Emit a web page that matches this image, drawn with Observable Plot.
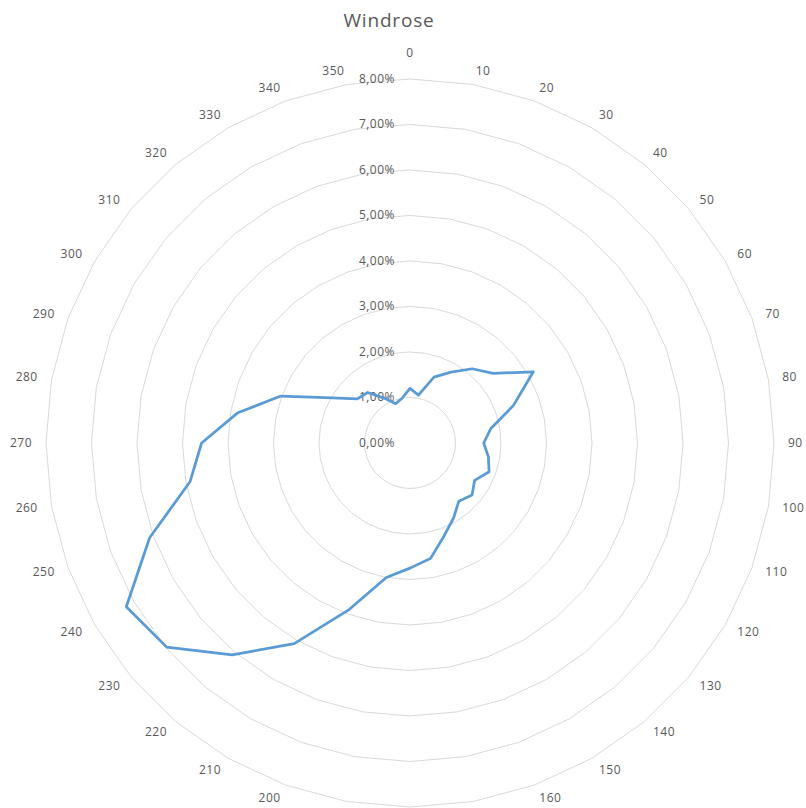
<!DOCTYPE html>
<html>
<head>
<meta charset="utf-8">
<script src="https://cdn.jsdelivr.net/npm/d3@7"></script>
<script src="https://cdn.jsdelivr.net/npm/@observablehq/plot@0.6"></script>
<style>
  body { margin: 0; background: #fff; }
  #wrap { position: relative; width: 806px; height: 808px; overflow: hidden; }
  #title {
    position: absolute; top: 7px; left: 0; width: 778px; text-align: center;
    font: 19px "Open Sans"; line-height: 26px; color: #595959; letter-spacing: 0.8px;
  }
  #chart { position: absolute; top: 0; left: 0; }
</style>
</head>
<body>
<div id="wrap">
  <div id="chart"></div>
  <div id="title">Windrose</div>
</div>
<script>
// Wind direction (degrees from north) and share of observations (%)
const directions = [0, 10, 20, 30, 40, 50, 60, 70, 80, 90, 100, 110, 120, 130, 140, 150, 160, 170,
                    180, 190, 200, 210, 220, 230, 240, 250, 260, 270, 280, 290, 300, 310, 320, 330, 340, 350];
const frequency = [1.20, 1.07, 1.54, 1.80, 2.13, 2.38, 3.13, 2.42, 1.80, 1.62, 1.75, 1.85, 1.64, 1.78, 1.67, 1.91, 2.18, 2.58,
                   2.75, 3.00, 3.89, 5.09, 6.08, 6.98, 7.20, 6.09, 4.91, 4.58, 3.84, 3.02, 1.98, 1.51, 1.45, 1.14, 0.92, 1.00];

// Radial axis rings and their labels
const ringValues = [0, 1, 2, 3, 4, 5, 6, 7, 8];
const ringLabels = ["0,00%", "1,00%", "2,00%", "3,00%", "4,00%", "5,00%", "6,00%", "7,00%", "8,00%"];
const directionLabels = directions.map(String);

const rad = (deg) => deg * Math.PI / 180;
const px = (deg, r) => r * Math.sin(rad(deg));
const py = (deg, r) => r * Math.cos(rad(deg));

const unit = 45.5;             // pixels per percentage point
const rMax = 8;
const labelR = 378 / unit;     // anchor ring for the direction labels

const wind = directions.map((d, i) => ({direction: d, value: frequency[i]}));
const rings = ringValues.filter(v => v > 0).flatMap(v => directions.map(d => ({level: v, direction: d})));

// Direction labels: right-hand side starts at the anchor, left-hand side ends there,
// the north and south labels are centred a little further out
const dirLabels = directions.map((d, i) => ({direction: d, text: directionLabels[i]}));
const side = (d) => Math.round(Math.sin(rad(d)) * 1000);
const rightLabels = dirLabels.filter(d => side(d.direction) > 0);
const leftLabels = dirLabels.filter(d => side(d.direction) < 0);
const northLabels = dirLabels.filter(d => side(d.direction) === 0 && Math.cos(rad(d.direction)) > 0);
const southLabels = dirLabels.filter(d => side(d.direction) === 0 && Math.cos(rad(d.direction)) < 0);

const labelStyle = {fontSize: 12, fill: "#595959", lineAnchor: "middle"};
const labelPos = {
  x: d => px(d.direction, labelR),
  y: d => py(d.direction, labelR),
  text: "text"
};

const chart = Plot.plot({
  width: 806,
  height: 808,
  marginLeft: 45.5,
  marginRight: 32.5,
  marginTop: 78.5,
  marginBottom: 1.5,
  x: {domain: [-rMax, rMax], axis: null},
  y: {domain: [-rMax, rMax], axis: null},
  style: {fontFamily: "Open Sans", letterSpacing: "0.5px", overflow: "visible", background: "#fff"},
  marks: [
    Plot.line(rings, {
      x: d => px(d.direction, d.level),
      y: d => py(d.direction, d.level),
      z: "level",
      curve: "linear-closed",
      stroke: "#d9d9d9",
      strokeWidth: 1
    }),
    Plot.text(ringValues, {
      x: () => 0,
      y: d => d,
      text: (d, i) => ringLabels[i],
      textAnchor: "end",
      dx: -15,
      ...labelStyle
    }),
    Plot.text(rightLabels, {...labelPos, textAnchor: "start", ...labelStyle}),
    Plot.text(leftLabels, {...labelPos, textAnchor: "end", ...labelStyle}),
    Plot.text(northLabels, {...labelPos, textAnchor: "middle", dy: -11.5, ...labelStyle}),
    Plot.text(southLabels, {...labelPos, textAnchor: "middle", dy: 11.5, ...labelStyle}),
    Plot.line(wind, {
      x: d => px(d.direction, d.value),
      y: d => py(d.direction, d.value),
      curve: "linear-closed",
      stroke: "#5b9bd5",
      strokeWidth: 2.75,
      strokeLinejoin: "round"
    })
  ]
});
document.getElementById("chart").appendChild(chart);
</script>
</body>
</html>
